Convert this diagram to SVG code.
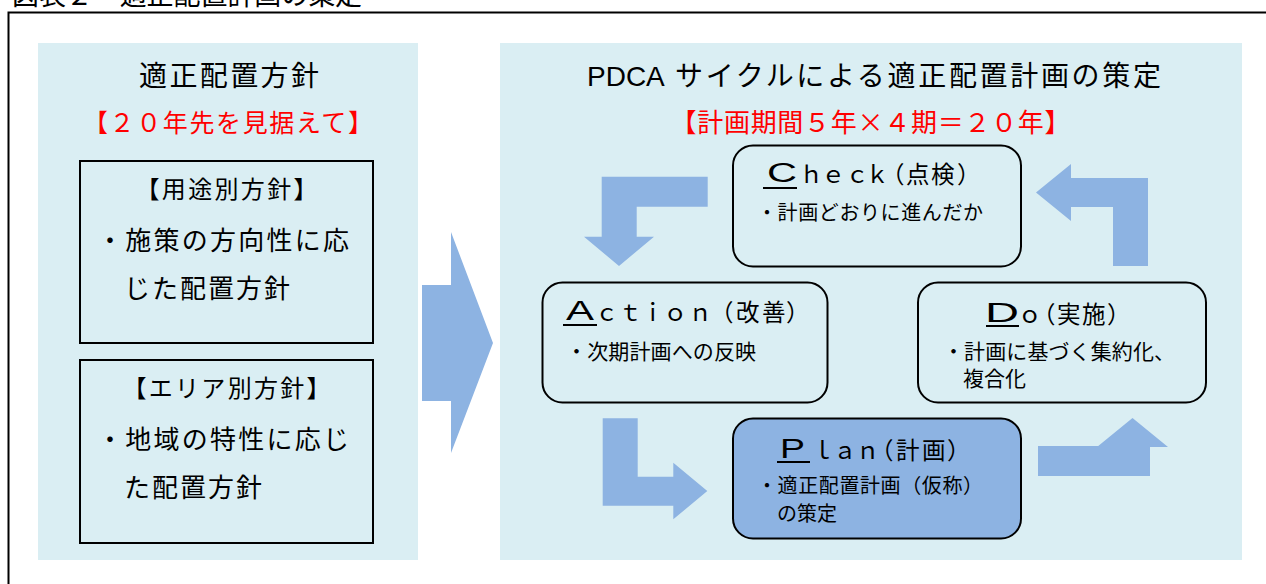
<svg xmlns="http://www.w3.org/2000/svg" width="1266" height="584" viewBox="0 0 1266 584">
<style>
.jp{font-family:"Noto Sans CJK JP","Noto Sans",sans-serif;fill:#000}
.lat{font-family:"Liberation Sans",Arial,sans-serif;fill:#000}
.red{fill:#FF0000}
.panel{fill:#DAEEF3}
.sq{fill:none;stroke:#000;stroke-width:2}
.rr{fill:#DAEEF3;stroke:#000;stroke-width:2}
.rrp{fill:#8DB3E2;stroke:#000;stroke-width:2}
.arw{fill:#8DB3E2}
.ul{stroke:#000;stroke-width:2}
</style>
<rect width="1266" height="584" fill="#fff"/>
<text class="jp" x="12" y="5" font-size="28" textLength="350" lengthAdjust="spacingAndGlyphs">図表２　適正配置計画の策定</text>
<path d="M8.5,590 V12.5 H1270" fill="none" stroke="#000" stroke-width="2"/>

<g id="left-panel">
<rect class="panel" x="38" y="43" width="380" height="517"/>
<text class="jp" x="229" y="86" font-size="28" text-anchor="middle" textLength="180">適正配置方針</text>
<text class="jp red" x="228" y="132" font-size="25" text-anchor="middle" textLength="290">【２０年先を見据えて】</text>
</g>

<g id="policy-use">
<rect class="sq" x="80" y="161" width="293" height="182"/>
<text class="jp" x="226.5" y="198" font-size="24" text-anchor="middle" textLength="182">【用途別方針】</text>
<text class="jp" font-size="26"><tspan x="97" y="250" textLength="252">・施策の方向性に応</tspan><tspan x="124" y="298" textLength="166">じた配置方針</tspan></text>
</g>

<g id="policy-area">
<rect class="sq" x="80" y="360" width="293" height="183"/>
<text class="jp" x="226.5" y="397" font-size="24" text-anchor="middle" textLength="208">【エリア別方針】</text>
<text class="jp" font-size="26"><tspan x="97" y="449" textLength="252">・地域の特性に応じ</tspan><tspan x="124" y="497" textLength="138">た配置方針</tspan></text>
</g>

<g id="right-panel">
<rect class="panel" x="500" y="43" width="742" height="517"/>
<text class="lat" x="587" y="86" font-size="28">PDCA</text>
<text class="jp" x="675" y="86" font-size="28" textLength="486">サイクルによる適正配置計画の策定</text>
<text class="jp red" x="870.5" y="132" font-size="26" text-anchor="middle" textLength="400">【計画期間５年×４期＝２０年】</text>
</g>

<g id="connectors">
<path class="arw" d="M422,285 H451 V232 L493,343 L451,453 V401 H422 Z"/>
<path class="arw" d="M707.7,176.7 H601.7 V236.7 H584 L619,266 L654,236.7 H636.7 V206.7 H707.7 Z"/>
<path class="arw" d="M602.7,418.3 H637.7 V476.7 H673.3 V462.7 L707.3,491 L673.3,519.3 V505.7 H602.7 Z"/>
<path class="arw" d="M1038,476 V446 H1115 V447 H1097 L1132.5,418 L1168,447 H1150 V476 Z"/>
<path class="arw" d="M1148,266 H1113 V207 H1071 V221 L1036,192.5 L1071,164 V178 H1148 Z"/>
</g>

<g id="check">
<rect class="rr" x="733" y="145.5" width="288" height="121" rx="20"/>
<text class="lat" x="767" y="182" font-size="27" textLength="30" lengthAdjust="spacingAndGlyphs">C</text>
<line class="ul" x1="763" y1="188" x2="797" y2="188"/>
<text class="jp" x="799.5 821.5 845.5 865.5 881 906 931 957" y="182.5" font-size="23.5">ｈｅｃｋ（点検）</text>
<text class="jp" x="757" y="220" font-size="20" textLength="226">・計画どおりに進んだか</text>
</g>

<g id="action">
<rect class="rr" x="542.5" y="282.5" width="285" height="120" rx="20"/>
<text class="lat" x="566" y="320" font-size="27" textLength="28" lengthAdjust="spacingAndGlyphs">A</text>
<line class="ul" x1="563" y1="325" x2="597" y2="325"/>
<text class="jp" x="595 618.5 641 663.5 688.5 710 736 762 786" y="320.5" font-size="23.5">ｃｔｉｏｎ（改善）</text>
<text class="jp" x="566" y="359" font-size="21" textLength="190">・次期計画への反映</text>
</g>

<g id="do">
<rect class="rr" x="918" y="282.5" width="288" height="120" rx="20"/>
<text class="lat" x="985" y="322" font-size="27" textLength="34" lengthAdjust="spacingAndGlyphs">D</text>
<line class="ul" x1="986" y1="326" x2="1019" y2="326"/>
<text class="jp" x="1018 1032 1057 1082 1107" y="322.5" font-size="23.5">ｏ（実施）</text>
<text class="jp" font-size="21"><tspan x="943" y="359" textLength="232">・計画に基づく集約化、</tspan><tspan x="963" y="386">複合化</tspan></text>
</g>

<g id="plan">
<rect class="rrp" x="733" y="418.5" width="288" height="120" rx="20"/>
<text class="lat" x="780" y="458" font-size="27" textLength="25" lengthAdjust="spacingAndGlyphs">P</text>
<line class="ul" x1="777" y1="462" x2="810" y2="462"/>
<text class="jp" x="811 833 856 870 896 922 947" y="458.5" font-size="23.5">ｌａｎ（計画）</text>
<text class="jp" font-size="20"><tspan x="757" y="493" textLength="226">・適正配置計画（仮称）</tspan><tspan x="777" y="521">の策定</tspan></text>
</g>
</svg>
